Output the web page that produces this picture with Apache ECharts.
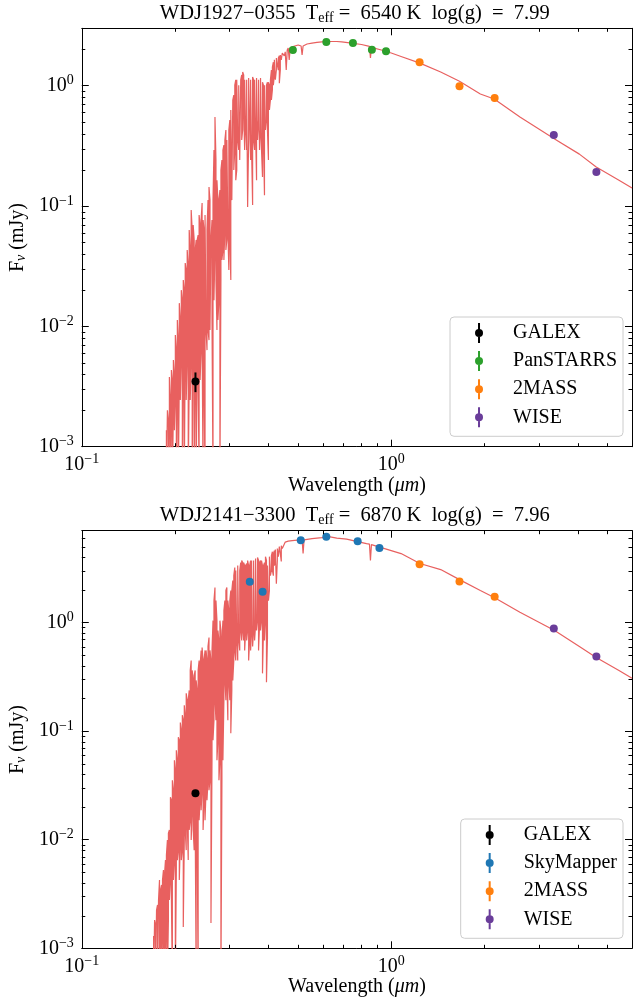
<!DOCTYPE html>
<html><head><meta charset="utf-8">
<script src="https://cdn.jsdelivr.net/npm/echarts@6/dist/echarts.min.js"></script>
<style>html,body{margin:0;padding:0;background:#fff}#c{width:633px;height:1002px}</style>
</head><body><div id="c"></div>
<script>
// ---------------- data ----------------
const titles = [
  'WDJ1927\u22120355  T{s|eff} =  6540 K  log(g)  =  7.99',
  'WDJ2141\u22123300  T{s|eff} =  6870 K  log(g)  =  7.96'
];
const xRange = [0.1, 6];
const yRange1 = [0.001, 3];
const yRange2 = [0.001, 7];
const xMinorTicks = [0.2,0.3,0.4,0.5,0.6,0.7,0.8,0.9,2,3,4,5];
const yMinorTicks1 = [0.002,0.003,0.004,0.005,0.006,0.007,0.008,0.009,0.02,0.03,0.04,0.05,0.06,0.07,0.08,0.09,0.2,0.3,0.4,0.5,0.6,0.7,0.8,0.9,2];
const yMinorTicks2 = [0.002,0.003,0.004,0.005,0.006,0.007,0.008,0.009,0.02,0.03,0.04,0.05,0.06,0.07,0.08,0.09,0.2,0.3,0.4,0.5,0.6,0.7,0.8,0.9,2,3,4,5,6];

// model spectrum, UV line forest: [wavelength (um), upper flux, lower flux] (mJy) per resolution element
const forest1 = [[0.1877,0.00137,0.0005],[0.1891,0.00201,0.0005],[0.1905,0.00166,0.0005],[0.1919,0.00379,0.00137],[0.1934,0.00244,0.0005],[0.1948,0.00433,0.00166],[0.1962,0.00358,0.0005],[0.1977,0.00525,0.00201],[0.1992,0.00395,0.00137],[0.2006,0.00846,0.00244],[0.2021,0.00635,0.0005],[0.2036,0.0113,0.00244],[0.2051,0.00769,0.0005],[0.2066,0.0156,0.00358],[0.2082,0.0113,0.00244],[0.2097,0.0200,0.00525],[0.2113,0.0165,0.0005],[0.2128,0.0243,0.00358],[0.2144,0.0200,0.0005],[0.2159,0.0336,0.00635],[0.2175,0.0294,0.00244],[0.2191,0.0431,0.00525],[0.2208,0.0324,0.0005],[0.2224,0.0632,0.00358],[0.2241,0.0431,0.00244],[0.2257,0.0926,0.00525],[0.2274,0.0632,0.0005],[0.2291,0.0695,0.00635],[0.2308,0.0522,0.0005],[0.2325,0.0431,0.00358],[0.2342,0.0522,0.0005],[0.2359,0.0522,0.00525],[0.2377,0.0574,0.00358],[0.2394,0.0841,0.0005],[0.2412,0.0695,0.00358],[0.2430,0.0765,0.00635],[0.2448,0.106,0.00769],[0.2466,0.0765,0.0005],[0.2484,0.0632,0.00358],[0.2502,0.0841,0.0005],[0.2521,0.0841,0.00931],[0.2539,0.0632,0.00635],[0.2558,0.112,0.00931],[0.2577,0.144,0.00769],[0.2596,0.112,0.00931],[0.2615,0.0522,0.00931],[0.2635,0.0765,0.0113],[0.2655,0.112,0.0005],[0.2674,0.292,0.0165],[0.2694,0.549,0.0431],[0.2714,0.241,0.0243],[0.2734,0.164,0.00931],[0.2754,0.112,0.0113],[0.2775,0.112,0.0165],[0.2795,0.136,0.0005],[0.2816,0.199,0.0243],[0.2837,0.241,0.0356],[0.2858,0.292,0.0431],[0.2879,0.321,0.0356],[0.2900,0.354,0.0632],[0.2922,0.428,0.0431],[0.2943,0.354,0.0522],[0.2965,0.354,0.0632],[0.2987,0.428,0.0294],[0.3009,0.519,0.0522],[0.3031,0.628,0.0243],[0.3054,0.628,0.112],[0.3076,0.760,0.112],[0.3099,0.837,0.199],[0.3122,1.01,0.292],[0.3145,1.12,0.164],[0.3168,1.12,0.199],[0.3191,1.12,0.354],[0.3215,1.01,0.292],[0.3239,1.01,0.241],[0.3263,1.12,0.241],[0.3287,1.23,0.354],[0.3311,1.30,0.428],[0.3336,1.23,0.628],[0.3360,1.12,0.292],[0.3385,1.12,0.428],[0.3410,1.12,0.292],[0.3435,1.16,0.0981],[0.3461,1.16,0.354],[0.3486,1.12,0.519],[0.3512,1.12,0.241],[0.3538,1.16,0.292],[0.3565,1.18,0.102],[0.3591,1.12,0.354],[0.3618,1.12,0.292],[0.3644,1.16,0.428],[0.3671,1.16,0.164],[0.3698,1.12,0.354],[0.3726,1.12,0.519],[0.3753,1.16,0.292],[0.3781,1.16,0.428],[0.3809,1.12,0.292],[0.3837,1.07,0.174],[0.3865,1.01,0.354],[0.3894,1.01,0.123],[0.3923,1.01,0.428],[0.3952,1.01,0.519],[0.3981,1.07,0.428],[0.4010,1.07,0.241],[0.4040,1.01,0.628],[0.4070,1.12,0.760],[0.4100,1.35,0.760],[0.4130,1.43,0.921],[0.4160,1.57,1.01],[0.4191,1.64,1.23],[0.4222,1.64,1.12],[0.4254,1.70,1.35],[0.4285,1.70,1.49],[0.4317,1.70,1.35],[0.4349,1.77,1.05],[0.4381,1.80,1.35],[0.4413,1.87,1.64],[0.4446,1.87,1.70]];
// model spectrum, optical/IR part: [wavelength (um), flux (mJy)]
const tail1 = [[0.4512,1.77],[0.4545,1.91],[0.4578,1.35],[0.4612,1.98],[0.4646,2.06],[0.4681,1.64],[0.4715,2.06],[0.4786,2.10],[0.4857,2.14],[0.5003,2.18],[0.5114,2.14],[0.5152,1.80],[0.5190,2.14],[0.5345,2.22],[0.5546,2.26],[0.5754,2.29],[0.5970,2.31],[0.6240,2.33],[0.6668,2.33],[0.6918,2.31],[0.7447,2.26],[0.8017,2.20],[0.8505,2.12],[0.8568,1.70],[0.8630,2.08],[0.929,1.98],[1.000,1.87],[1.076,1.75],[1.238,1.54],[1.445,1.30],[1.662,1.09],[1.941,0.853],[2.152,0.775],[2.606,0.549],[3.373,0.361],[4.056,0.270],[4.597,0.211],[5.446,0.164],[6.0,0.141]];

const forest2 = [[0.1706,0.00130,0.0005],[0.1719,0.00182,0.0005],[0.1731,0.00164,0.0005],[0.1744,0.00225,0.0005],[0.1757,0.00251,0.0005],[0.1770,0.00279,0.0005],[0.1783,0.00425,0.0005],[0.1796,0.00344,0.00119],[0.1810,0.00383,0.0005],[0.1823,0.00425,0.00148],[0.1836,0.00526,0.0005],[0.1850,0.00473,0.00119],[0.1864,0.00649,0.0005],[0.1877,0.00722,0.00148],[0.1891,0.00992,0.0005],[0.1905,0.0115,0.00182],[0.1919,0.0123,0.00279],[0.1934,0.0246,0.00425],[0.1948,0.0231,0.00279],[0.1962,0.0353,0.0005],[0.1977,0.0286,0.00425],[0.1992,0.0539,0.00649],[0.2006,0.0436,0.0005],[0.2021,0.0666,0.00526],[0.2036,0.0539,0.00649],[0.2051,0.0877,0.00802],[0.2066,0.0823,0.00425],[0.2082,0.120,0.00992],[0.2097,0.102,0.00649],[0.2113,0.140,0.00802],[0.2128,0.126,0.00157],[0.2144,0.173,0.00992],[0.2159,0.140,0.0123],[0.2175,0.223,0.00802],[0.2191,0.192,0.0151],[0.2208,0.192,0.00649],[0.2224,0.237,0.0123],[0.2241,0.362,0.0151],[0.2257,0.447,0.00992],[0.2274,0.362,0.0187],[0.2291,0.293,0.0123],[0.2308,0.326,0.00802],[0.2325,0.362,0.0151],[0.2342,0.293,0.0005],[0.2359,0.237,0.0123],[0.2377,0.362,0.0005],[0.2394,0.447,0.0151],[0.2412,0.402,0.0231],[0.2430,0.553,0.0187],[0.2448,0.589,0.0286],[0.2466,0.447,0.0123],[0.2484,0.447,0.0231],[0.2502,0.553,0.0151],[0.2521,0.553,0.0286],[0.2539,0.447,0.0231],[0.2558,0.602,0.0353],[0.2577,0.728,0.0286],[0.2596,0.553,0.0353],[0.2615,0.447,0.00171],[0.2635,0.553,0.0539],[0.2655,1.04,0.0823],[0.2674,1.59,0.126],[0.2694,2.10,0.192],[0.2714,1.59,0.126],[0.2734,1.04,0.0539],[0.2754,0.844,0.0823],[0.2775,0.683,0.0353],[0.2795,1.04,0.0539],[0.2816,0.844,0.0005],[0.2837,0.683,0.0353],[0.2858,1.04,0.0539],[0.2879,1.29,0.192],[0.2900,1.59,0.293],[0.2922,1.97,0.192],[0.2943,2.10,0.293],[0.2965,1.59,0.126],[0.2987,1.29,0.275],[0.3009,1.59,0.192],[0.3031,1.97,0.0954],[0.3054,1.97,0.237],[0.3076,2.43,0.293],[0.3099,2.70,0.447],[0.3122,3.20,0.553],[0.3145,3.01,0.447],[0.3168,3.01,0.683],[0.3191,3.34,0.447],[0.3215,3.34,0.683],[0.3239,3.01,0.553],[0.3263,3.56,0.844],[0.3287,3.72,0.683],[0.3311,3.56,0.844],[0.3336,3.56,0.683],[0.3360,3.34,0.553],[0.3385,3.34,0.844],[0.3410,3.49,0.683],[0.3435,3.72,0.844],[0.3461,3.34,0.447],[0.3486,3.34,0.683],[0.3512,3.72,0.553],[0.3538,3.72,0.844],[0.3565,3.72,0.602],[0.3591,3.72,0.844],[0.3618,3.72,0.683],[0.3644,3.88,0.938],[0.3671,3.72,0.844],[0.3698,3.96,1.04],[0.3726,3.72,0.553],[0.3753,3.56,0.938],[0.3781,3.72,0.844],[0.3809,3.72,1.04],[0.3837,3.34,0.340],[0.3865,3.34,0.844],[0.3894,3.56,0.683],[0.3923,4.04,1.04],[0.3952,3.72,0.281],[0.3981,3.34,0.713],[0.4010,3.34,1.59],[0.4040,4.04,1.97],[0.4070,4.04,2.70],[0.4100,4.13,3.01],[0.4130,4.49,3.01],[0.4160,4.31,2.70],[0.4191,4.59,3.34],[0.4222,4.69,3.72],[0.4254,4.69,2.28],[0.4285,4.79,3.72],[0.4317,4.79,4.04],[0.4349,4.99,4.13],[0.4381,4.99,4.31],[0.4413,5.10,3.64],[0.4446,5.32,4.79]];
const tail2 = [[0.4545,5.50],[0.4646,5.61],[0.4786,5.67],[0.4966,5.73],[0.5152,5.76],[0.5190,4.31],[0.5228,5.76],[0.5546,5.92],[0.5970,6.04],[0.6286,6.17],[0.6668,5.98],[0.7178,5.86],[0.7785,5.55],[0.8318,5.32],[0.8505,5.27],[0.8568,3.72],[0.8630,5.21],[0.929,4.89],[1.000,4.59],[1.076,4.31],[1.238,3.49],[1.445,3.07],[1.662,2.48],[1.941,1.97],[2.152,1.70],[2.606,1.24],[3.373,0.844],[4.056,0.602],[4.597,0.477],[5.446,0.362],[6.0,0.306]];

// photometry
const galexWave = [0.233];
const galexFlux1 = [0.00349], galexErr1 = [0.00065];
const galexFlux2 = [0.0267],  galexErr2 = [0.0012];
const panWave = [0.481, 0.617, 0.752, 0.866, 0.962];
const panFlux = [1.98, 2.31, 2.26, 1.99, 1.93];
const panErr  = [0.03, 0.03, 0.03, 0.03, 0.04];
const smWave = [0.349, 0.384, 0.510, 0.617, 0.779, 0.916];
const smFlux = [2.37, 1.92, 5.71, 6.17, 5.59, 4.86];
const smErr  = [0.08, 0.07, 0.1, 0.1, 0.1, 0.1];
const tmWave = [1.235, 1.662, 2.159];
const tmFlux1 = [1.565, 0.99, 0.79], tmErr1 = [0.04, 0.04, 0.05];
const tmFlux2 = [3.43, 2.38, 1.73],  tmErr2 = [0.07, 0.05, 0.05];
const wiseWave = [3.353, 4.603];
const wiseFlux1 = [0.389, 0.192], wiseErr1 = [0.01, 0.01];
const wiseFlux2 = [0.88, 0.487],  wiseErr2 = [0.02, 0.01];

// ---------------- style ----------------
const FONT = '"Liberation Serif","Times New Roman",serif';
const FS = 20, FS_SUP = 14;
const MODEL_COLOR = '#e8605f';
const COLORS = {GALEX:'#000000', PanSTARRS:'#2ca02c', SkyMapper:'#1f77b4', '2MASS':'#ff7f0e', WISE:'#6a3d9a'};
const ICON = 'path://M4,0h2v7h-2z M4,13h2v7h-2z M1,10a4,4 0 1,1 8,0a4,4 0 1,1 -8,0z';

// each resolution element is drawn as a vertical stroke between its lower and upper flux
function buildModel(forest, tail) {
  const d = [];
  forest.forEach((f, i) => {
    if (i % 2 === 0) { d.push([f[0], f[1]]); d.push([f[0], f[2]]); }
    else { d.push([f[0], f[2]]); d.push([f[0], f[1]]); }
  });
  return d.concat(tail);
}

const panels = [
  {title: titles[0], yRange: yRange1, yMinor: yMinorTicks1, model: buildModel(forest1, tail1),
   grid: {left:77.5, top:28.3, width:554.5, height:418.4}, legendTop: 317,
   groups: [
     {name:'GALEX', wave:galexWave, flux:galexFlux1, err:galexErr1},
     {name:'PanSTARRS', wave:panWave, flux:panFlux, err:panErr},
     {name:'2MASS', wave:tmWave, flux:tmFlux1, err:tmErr1},
     {name:'WISE', wave:wiseWave, flux:wiseFlux1, err:wiseErr1}]},
  {title: titles[1], yRange: yRange2, yMinor: yMinorTicks2, model: buildModel(forest2, tail2),
   grid: {left:77.5, top:530.7, width:554.5, height:417.6}, legendTop: 819,
   groups: [
     {name:'GALEX', wave:galexWave, flux:galexFlux2, err:galexErr2},
     {name:'SkyMapper', wave:smWave, flux:smFlux, err:smErr},
     {name:'2MASS', wave:tmWave, flux:tmFlux2, err:tmErr2},
     {name:'WISE', wave:wiseWave, flux:wiseFlux2, err:wiseErr2}]}
];

function expLabel(v) {
  const e = Math.log10(v), r = Math.round(e);
  if (Math.abs(e - r) > 1e-6) return '';
  return '{b|10}{s|' + (r < 0 ? '\u2212' + (-r) : r) + '}';
}
const tickRich = {
  b: {fontFamily: FONT, fontSize: FS, lineHeight: 24, color: '#000'},
  s: {fontFamily: FONT, fontSize: FS_SUP, lineHeight: 14, verticalAlign: 'top', color: '#000'}
};

function xMinorRender(params, api) {
  const cs = params.coordSys;
  const px = Math.round(api.coord([api.value(0), api.value(1)])[0]) + 0.5;
  const yb = cs.y + cs.height, yt = cs.y;
  return {type:'group', children:[
    {type:'line', shape:{x1:px, y1:yb, x2:px, y2:yb-3.5}, style:{stroke:'#000', lineWidth:1}},
    {type:'line', shape:{x1:px, y1:yt, x2:px, y2:yt+3.5}, style:{stroke:'#000', lineWidth:1}}]};
}
function yMinorRender(params, api) {
  const cs = params.coordSys;
  const py = Math.round(api.coord([api.value(0), api.value(1)])[1]) + 0.5;
  const xl = cs.x, xr = cs.x + cs.width;
  return {type:'group', children:[
    {type:'line', shape:{x1:xl, y1:py, x2:xl+3.5, y2:py}, style:{stroke:'#000', lineWidth:1}},
    {type:'line', shape:{x1:xr, y1:py, x2:xr-3.5, y2:py}, style:{stroke:'#000', lineWidth:1}}]};
}
function errRender(color) {
  return function (params, api) {
    const x = api.value(0), y = api.value(1), e = api.value(2);
    const p1 = api.coord([x, y - e]), p2 = api.coord([x, y + e]);
    return {type:'line', shape:{x1:p1[0], y1:p1[1], x2:p2[0], y2:p2[1]}, style:{stroke:color, lineWidth:2}};
  };
}

const option = {animation:false, title:[], grid:[], xAxis:[], yAxis:[], legend:[], series:[]};
const axisLineStyle = {show:true, onZero:false, lineStyle:{color:'#000', width:1}};
const majorTick = {show:true, inside:true, length:7, lineStyle:{color:'#000', width:1}};

panels.forEach((p, gi) => {
  option.grid.push(p.grid);
  option.title.push({
    text: p.title, left: p.grid.left + p.grid.width / 2, top: p.grid.top - 27, textAlign: 'center', padding: 0,
    textStyle: {fontFamily: FONT, fontSize: 20.5, fontWeight: 'normal', color: '#000', lineHeight: 24,
      rich: {s: {fontFamily: FONT, fontSize: FS_SUP, verticalAlign: 'bottom', lineHeight: 20, color: '#000'}}}
  });
  const xb = {gridIndex: gi, type: 'log', logBase: 10, min: xRange[0], max: xRange[1], splitLine: {show:false},
    axisLine: axisLineStyle, axisTick: majorTick};
  option.xAxis.push(Object.assign({}, xb, {position: 'bottom',
    axisLabel: {formatter: expLabel, rich: tickRich, margin: 6, color: '#000', showMaxLabel: false},
    name: 'Wavelength ({i|\u03bcm})', nameLocation: 'middle', nameGap: 26,
    nameTextStyle: {fontFamily: FONT, fontSize: FS, color: '#000',
      rich: {i: {fontFamily: FONT, fontSize: FS, fontStyle: 'italic', color: '#000'}}}}));
  option.xAxis.push(Object.assign({}, xb, {position: 'top', axisLabel: {show: false}}));
  const yb = {gridIndex: gi, type: 'log', logBase: 10, min: p.yRange[0], max: p.yRange[1], splitLine: {show:false},
    axisLine: axisLineStyle, axisTick: majorTick};
  option.yAxis.push(Object.assign({}, yb, {position: 'left',
    axisLabel: {formatter: expLabel, rich: tickRich, margin: 8, color: '#000', showMaxLabel: false},
    name: 'F{s|\u03bd} (mJy)', nameLocation: 'middle', nameGap: 50,
    nameTextStyle: {fontFamily: FONT, fontSize: FS, color: '#000',
      rich: {s: {fontFamily: FONT, fontSize: FS_SUP, fontStyle: 'italic', verticalAlign: 'bottom', color: '#000'}}}}));
  option.yAxis.push(Object.assign({}, yb, {position: 'right', axisLabel: {show: false}}));

  const xi = gi * 2, yi = gi * 2;
  option.series.push({type: 'line', name: 'model' + gi, xAxisIndex: xi, yAxisIndex: yi, data: p.model,
    showSymbol: false, symbol: 'none', clip: true, silent: true, z: 1,
    lineStyle: {color: MODEL_COLOR, width: 1.2}});
  p.groups.forEach(g => {
    const c = COLORS[g.name];
    option.series.push({type: 'custom', name: g.name + ' err', xAxisIndex: xi, yAxisIndex: yi, z: 2, silent: true,
      renderItem: errRender(c), encode: {x: 0, y: 1},
      data: g.wave.map((w, i) => [w, g.flux[i], g.err[i]])});
    option.series.push({type: 'scatter', name: g.name, xAxisIndex: xi, yAxisIndex: yi, z: 3, silent: true,
      symbol: 'circle', symbolSize: 8, itemStyle: {color: c, opacity: 1},
      data: g.wave.map((w, i) => [w, g.flux[i]])});
  });
  option.series.push({type: 'custom', name: 'xminor' + gi, xAxisIndex: xi, yAxisIndex: yi, z: 5, silent: true, clip: false,
    renderItem: xMinorRender, encode: {x: 0, y: 1}, data: xMinorTicks.map(v => [v, p.yRange[0]])});
  option.series.push({type: 'custom', name: 'yminor' + gi, xAxisIndex: xi, yAxisIndex: yi, z: 5, silent: true, clip: false,
    renderItem: yMinorRender, encode: {x: 0, y: 1}, data: p.yMinor.map(v => [xRange[0], v])});

  option.legend.push({
    data: p.groups.map(g => g.name), orient: 'vertical', right: 10, top: p.legendTop,
    itemWidth: 8, itemHeight: 20, itemGap: 8.1, icon: ICON, selectedMode: false,
    padding: [6, 6, 9, 25], backgroundColor: 'rgba(255,255,255,0.8)',
    borderColor: '#cccccc', borderWidth: 1, borderRadius: 4,
    formatter: n => '     ' + n,
    textStyle: {fontFamily: FONT, fontSize: FS, color: '#000', lineHeight: 20}
  });
});

const chart = echarts.init(document.getElementById('c'), null, {renderer: 'canvas'});
chart.setOption(option);
</script></body></html>
